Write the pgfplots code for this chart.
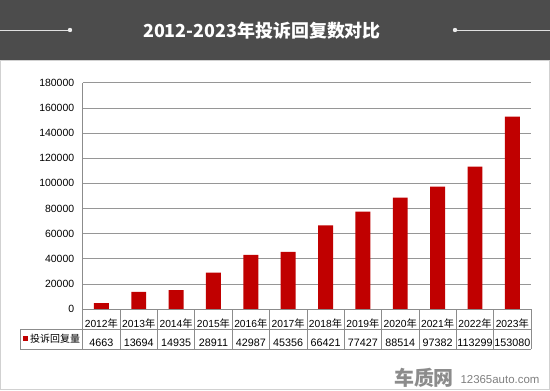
\documentclass[border=0pt]{standalone}
\usepackage{fontspec}
\setmainfont{Liberation Sans}
\newfontfamily\cjk{Noto Sans CJK SC}
\usepackage{pgfplots}
\usepackage{pgfplotstable}
\pgfplotsset{compat=1.18}
\definecolor{barred}{RGB}{192,0,0}
\definecolor{hdr}{RGB}{76,76,76}
\definecolor{gridc}{RGB}{150,150,150}
\definecolor{tablec}{RGB}{140,140,140}

\pgfplotstableread{
x y
0 4663
1 13694
2 14935
3 28911
4 42987
5 45356
6 66421
7 77427
8 88514
9 97382
10 113299
11 153080
}\datatable

\begin{document}
\begin{tikzpicture}[x=1bp,y=1bp]
\useasboundingbox (0,0) rectangle (550,390);
\fill[white] (0,0) rectangle (550,390);
\draw[black!18, line width=1bp] (0.5,0.5) rectangle (549.5,330);
\fill[hdr] (0,330) rectangle (550,390);
\draw[white!88!black, line width=0.8bp] (0,360) -- (70,360);
\fill[white!92!black] (70,360) circle (2.2bp);
\draw[white!88!black, line width=0.8bp] (455,360) -- (550,360);
\fill[white!92!black] (455,360) circle (2.2bp);
\node[white, font=\cjk\bfseries\fontsize{18}{20}\selectfont] at (262,359) {2012-2023年投诉回复数对比};

\begin{axis}[
  at={(82.7bp,81bp)}, anchor=south west,
  width=448.3bp, height=226.3bp, scale only axis,
  xmin=-0.5, xmax=11.5, ymin=0, ymax=180000,
  ybar, bar width=0.4,
  axis x line*=bottom, axis y line*=left,
  axis line style={tablec, line width=0.7bp},
  ymajorgrids, grid style={gridc, line width=0.6bp},
  ytick={0,20000,...,180000},
  scaled y ticks=false,
  /pgf/number format/assume math mode=true,
  yticklabel style={/pgf/number format/fixed, /pgf/number format/1000 sep={}, font=\fontsize{10.5}{12}\selectfont, xshift=-5bp},
  ytick style={draw=none},
  xtick={0,...,11},
  xticklabels={2012{\cjk 年},2013{\cjk 年},2014{\cjk 年},2015{\cjk 年},2016{\cjk 年},2017{\cjk 年},2018{\cjk 年},2019{\cjk 年},2020{\cjk 年},2021{\cjk 年},2022{\cjk 年},2023{\cjk 年}},
  xticklabel style={anchor=base, yshift=-14bp, font=\fontsize{10.3}{12}\selectfont},
  xtick style={draw=none},
  extra x ticks={0,...,11},
  extra x tick labels={4663,13694,14935,28911,42987,45356,66421,77427,88514,97382,113299,153080},
  extra x tick style={grid=none, xtick style={draw=none}, xticklabel style={yshift=-19.5bp, font=\fontsize{10.8}{12}\selectfont}},
]
\addplot[fill=barred, draw=none] table[x=x,y=y] {\datatable};
\end{axis}

% table grid
\begin{scope}[tablec, line width=0.7bp]
\draw (82.7,81) -- (531,81);
\draw (20,61) -- (531,61);
\draw (20,41) -- (531,41);
\draw (20,61) -- (20,41);
\foreach \k in {0,...,12} {
  \draw ({82.7+37.36*\k},81) -- ({82.7+37.36*\k},41);
}
\end{scope}
\fill[barred] (23,49.5) rectangle (27.5,54.5);
\node[anchor=west, inner sep=0pt, font=\cjk\fontsize{10}{12}\selectfont] at (30,51) {投诉回复量};

% watermark
\node[black!45, font=\cjk\bfseries\fontsize{20}{22}\selectfont] at (424,12) {车质网};
\node[black!50, font=\fontsize{11.5}{13}\selectfont] at (500,10) {12365auto.com};
\end{tikzpicture}
\end{document}
